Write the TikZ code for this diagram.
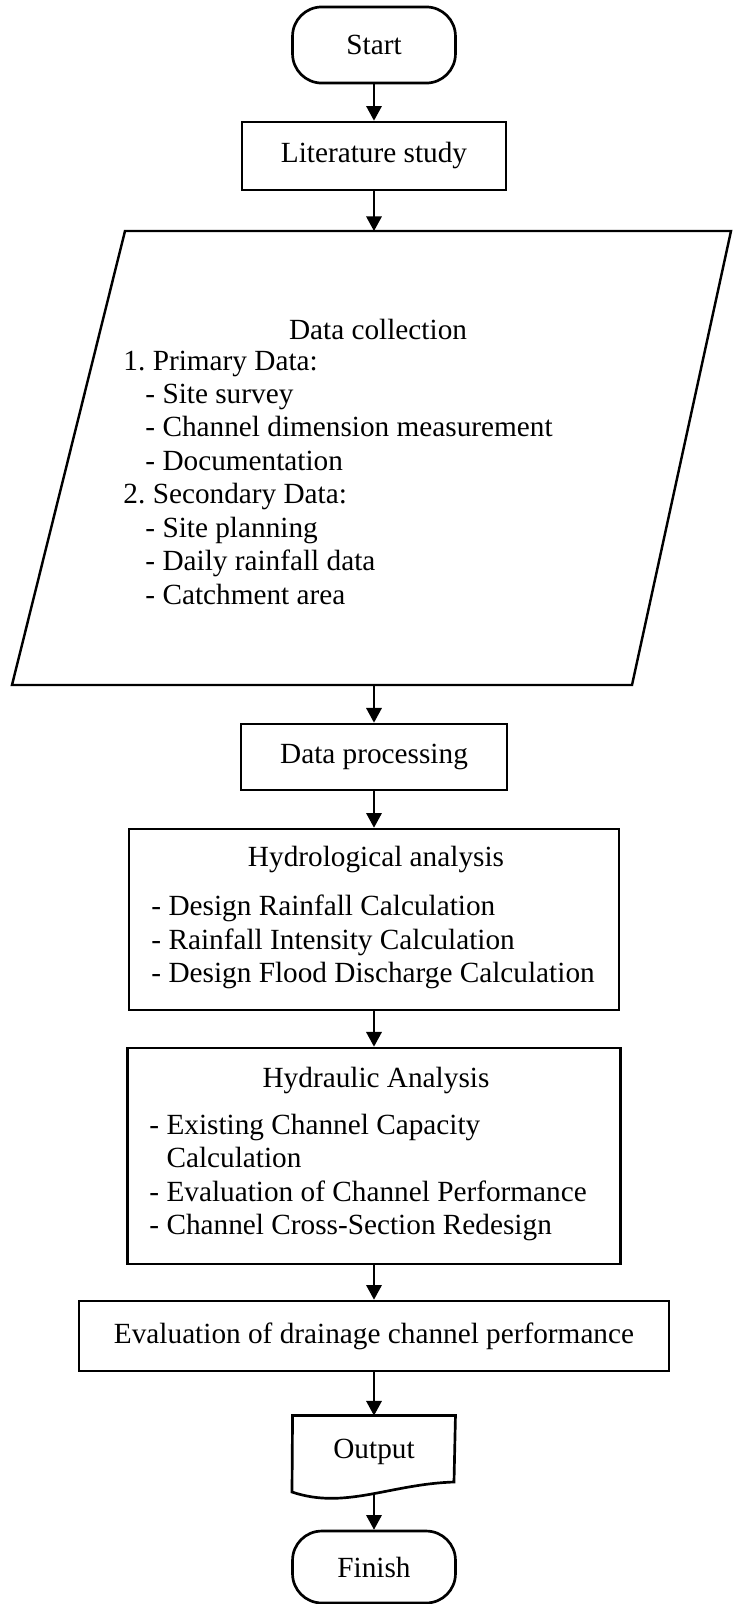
\documentclass[tikz,border=0pt]{standalone}
\usepackage{fontspec}
\setmainfont{Liberation Serif}
\usetikzlibrary{arrows.meta}
\usetikzlibrary{positioning}

\begin{document}
\frenchspacing
\begin{tikzpicture}[
		x=0.41pt,y=-0.41pt,
		every node/.style={font=\fontsize{12}{13.7}\selectfont,inner sep=0pt},
		term/.style={draw,line width=1.1pt,rounded corners=12pt,minimum width=66.8pt,minimum height=31.2pt},
		box/.style={draw,line width=1.1pt,rectangle},
		txt/.style={align=left,anchor=west},
		arr/.style={-{Triangle[length=6pt,width=6.4pt]},line width=0.55pt}
		]
		\useasboundingbox (0,0) rectangle (733,1604);
		\node[term] (start) at (374,45) {Start};
		\node[box,minimum width=108.2pt,minimum height=27.9pt] (lit) at (374,156) {Literature study};
		\coordinate (dc1) at (125,231);
		\coordinate (dc2) at (731,231);
		\coordinate (dc3) at (632,685);
		\coordinate (dc4) at (12,685);
		\coordinate (dctop) at (374,231);
		\coordinate (dcbot) at (374,685);
		\draw[line width=1pt] (dc1) -- (dc2) -- (dc3) -- (dc4) -- cycle;
		\node (dctitle) at (378,329) {Data collection};
		\node[txt] (dclist) at (123,477.5) {1. Primary Data:\\\hspace{9pt}- Site survey\\\hspace{9pt}- Channel dimension measurement\\\hspace{9pt}- Documentation\\2. Secondary Data:\\\hspace{9pt}- Site planning\\\hspace{9pt}- Daily rainfall data\\\hspace{9pt}- Catchment area};
		\node[box,minimum width=109.1pt,minimum height=27.1pt] (proc) at (374,757) {Data processing};
		\node[box,minimum width=200.9pt,minimum height=74.2pt] (hydro) at (374,919.5) {};
		\node (hydrotitle) at (376,859) {Hydrological analysis};
		\node[txt] (hydrolist) at (151,942) {- Design Rainfall Calculation\\- Rainfall Intensity Calculation\\- Design Flood Discharge Calculation};
		\node[box,minimum width=202.1pt,minimum height=88.6pt] (hydra) at (374,1156) {};
		\node (hydratitle) at (376,1080) {Hydraulic Analysis};
		\node[txt] (hydralist) at (149,1177.5) {- Existing Channel Capacity\\\phantom{- }Calculation\\- Evaluation of Channel Performance\\- Channel Cross-Section Redesign};
		\node[box,minimum width=241.9pt,minimum height=28.7pt] (eval) at (374,1336) {Evaluation of drainage channel performance};
		\node[minimum width=66.4pt,minimum height=29.5pt] (out) at (374,1452) {Output};
		\draw[line width=1.1pt] (out.north west) -- (out.north east) -- (454,1482) .. controls (390,1484) and (345,1510) .. (292,1492) -- cycle;
		\coordinate (outbot) at (374,1494);
		\node[term,minimum height=29.5pt] (finish) at (374,1567) {Finish};
		\draw[arr] (start) -- (lit);
		\draw[arr] (lit) -- (dctop);
		\draw[arr] (dcbot) -- (proc);
		\draw[arr] (proc) -- (hydro);
		\draw[arr] (hydro) -- (hydra);
		\draw[arr] (hydra) -- (eval);
		\draw[arr] (eval) -- (out);
		\draw[arr] (outbot) -- (finish);
\end{tikzpicture}
\end{document}
